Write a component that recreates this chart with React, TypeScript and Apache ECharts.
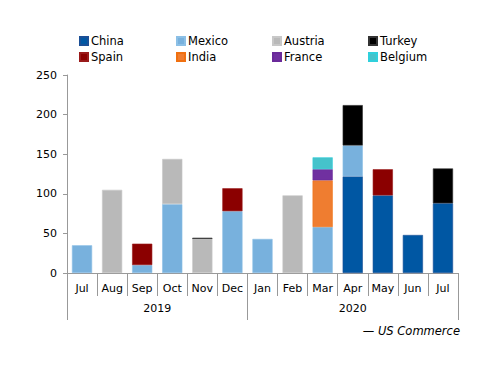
import React, { useEffect, useRef } from "react";
import * as echarts from "echarts";

const months = ["Jul", "Aug", "Sep", "Oct", "Nov", "Dec", "Jan", "Feb", "Mar", "Apr", "May", "Jun", "Jul"];
const years = ["2019", "2020"];
const yearBounds = [0, 6, 13];
const yearCenters = [3, 9.5];

const china = [0, 0, 0, 0, 0, 0, 0, 0, 0, 122, 98, 48, 88];
const mexico = [35, 0, 10, 87, 0, 78, 43, 0, 58, 39, 0, 0, 0];
const austria = [0, 105, 0, 57, 43, 0, 0, 98, 0, 0, 0, 0, 0];
const spain = [0, 0, 27, 0, 0, 29, 0, 0, 0, 0, 33, 0, 0];
const india = [0, 0, 0, 0, 0, 0, 0, 0, 59, 0, 0, 0, 0];
const france = [0, 0, 0, 0, 0, 0, 0, 0, 14, 0, 0, 0, 0];
const belgium = [0, 0, 0, 0, 0, 0, 0, 0, 15, 0, 0, 0, 0];
const turkey = [0, 0, 0, 0, 1.5, 0, 0, 0, 0, 51, 0, 0, 44];

const seriesDefs = [
  { name: "China", data: china, color: "#0057a3", border: "#1b4f96" },
  { name: "Mexico", data: mexico, color: "#78b1dd", border: "#8cc0e6" },
  { name: "Austria", data: austria, color: "#b9b9b9", border: "#c8c8c8" },
  { name: "Spain", data: spain, color: "#8b0000", border: "#9a1a1a" },
  { name: "India", data: india, color: "#ef7d30", border: "#f07010" },
  { name: "France", data: france, color: "#7030a0", border: "#6a2a9a" },
  { name: "Belgium", data: belgium, color: "#45c3cb", border: "#30d0dc" },
  { name: "Turkey", data: turkey, color: "#000000", border: "#333333" },
];

const legendLayout = [
  ["China", 79, 35], ["Mexico", 176, 35], ["Austria", 272, 35], ["Turkey", 368, 35],
  ["Spain", 79, 51], ["India", 176, 51], ["France", 272, 51], ["Belgium", 368, 51],
];

const FONT = "DejaVu Sans";

export default function App() {
  const ref = useRef<HTMLDivElement>(null);
  useEffect(() => {
    if (!ref.current) return;
    const chart = echarts.init(ref.current, null, { renderer: "svg" });
    chart.setOption({
      animation: false,
      backgroundColor: "#ffffff",
      textStyle: { fontFamily: FONT },
      legend: legendLayout.map(([name, left, top]) => ({
        data: [name],
        left,
        top,
        padding: 0,
        itemWidth: 8,
        itemHeight: 8,
        itemGap: 0,
        icon: "rect",
        selectedMode: false,
        textStyle: { fontFamily: FONT, fontSize: 11.5, color: "#000", padding: [0, 0, 0, -2] },
      })),
      grid: { left: 67, right: 42, top: 75, bottom: 113, containLabel: false },
      xAxis: [
        {
          type: "category",
          data: months,
          position: "bottom",
          axisLine: { lineStyle: { color: "#999", width: 1 } },
          axisTick: { show: true, interval: 0, length: 23, lineStyle: { color: "#999" } },
          axisLabel: { interval: 0, margin: 10, fontSize: 11, color: "#000", fontFamily: FONT },
        },
        {
          type: "value",
          min: 0,
          max: 13,
          position: "bottom",
          offset: 0,
          axisLine: { show: false, onZero: false },
          splitLine: { show: false },
          axisTick: { show: true, length: 47, customValues: yearBounds, lineStyle: { color: "#999" } },
          axisLabel: {
            customValues: yearCenters,
            margin: 30,
            fontSize: 11,
            color: "#000",
            fontFamily: FONT,
            formatter: (v: number) => years[yearCenters.indexOf(v)] ?? "",
          },
        },
      ],
      yAxis: {
        type: "value",
        min: 0,
        max: 250,
        interval: 50,
        axisLine: { show: true, lineStyle: { color: "#999" } },
        axisTick: { show: true, length: 4, lineStyle: { color: "#999" } },
        splitLine: { show: false },
        axisLabel: { fontSize: 11, color: "#000", margin: 10, fontFamily: FONT },
      },
      series: seriesDefs.map((s) => ({
        name: s.name,
        type: "bar",
        stack: "total",
        xAxisIndex: 0,
        data: s.data.map((v) => (v === 0 ? null : v)),
        barCategoryGap: "33%",
        itemStyle: { color: s.color, borderColor: s.border, borderWidth: 0.6 },
        emphasis: { disabled: true },
      })),
      graphic: [
        {
          type: "text",
          right: 40,
          top: 325,
          style: {
            text: "— US Commerce",
            font: `italic 11.5px ${FONT}`,
            fill: "#000",
          },
        },
      ],
    });
    return () => chart.dispose();
  }, []);
  return <div ref={ref} style={{ width: 500, height: 386, position: "absolute", left: 0, top: 0 }} />;
}
